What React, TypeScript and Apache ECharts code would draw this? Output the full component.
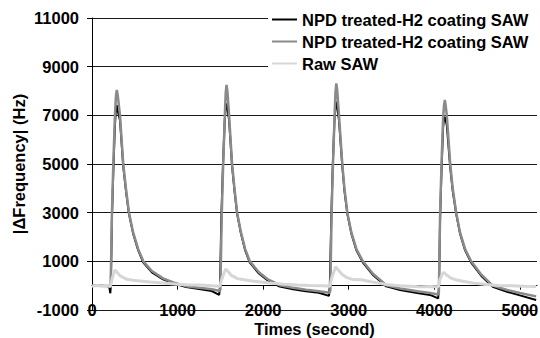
import React, { useEffect, useRef } from "react";
import * as echarts from "echarts";

const seriesNames = ["NPD treated-H2 coating SAW", "NPD treated-H2 coating SAW", "Raw SAW"];
const xTicks = [0, 1000, 2000, 3000, 4000, 5000];

const blackT = [
  0, 100, 200, 214, 220, 234, 250, 268, 280, 290, 300, 327, 365, 400, 432, 480, 540, 600, 700, 830, 950, 1100, 1250, 1400, 1486,
  1496, 1512, 1530, 1550, 1562, 1572, 1582, 1602, 1637, 1665, 1696, 1740, 1790, 1844, 1950, 2050, 2194, 2350, 2500, 2650, 2769,
  2779, 2797, 2813, 2832, 2845, 2855, 2865, 2886, 2925, 2950, 2984, 3030, 3090, 3166, 3280, 3439, 3600, 3800, 3950, 4045,
  4055, 4068, 4084, 4103, 4113, 4123, 4133, 4146, 4186, 4215, 4256, 4300, 4360, 4431, 4550, 4683, 4850, 5000, 5190,
];
const blackV = [
  0, 0, -20, -310, 0, 2900, 4800, 6600, 7250, 7420, 7200, 6800, 4900, 3800, 2950, 2150, 1450, 950, 550, 260, 100, -60, -140, -220, -380,
  0, 2900, 4900, 6700, 7300, 7490, 7300, 6800, 4900, 3900, 2950, 2150, 1450, 950, 500, 220, -40, -150, -230, -290, -420,
  0, 2900, 4900, 6700, 7350, 7560, 7350, 6800, 4900, 3900, 2950, 2150, 1450, 950, 450, -30, -180, -300, -380, -520,
  0, 2800, 4700, 6500, 6850, 6940, 6800, 6600, 4850, 3900, 2950, 2150, 1450, 950, 400, -50, -250, -400, -590,
];

const grayT = [
  0, 100, 200, 218, 233, 249, 268, 280, 290, 300, 327, 365, 400, 432, 480, 540, 600, 700, 830, 950, 1100, 1250, 1400, 1495,
  1500, 1517, 1533, 1552, 1562, 1572, 1582, 1602, 1637, 1665, 1696, 1740, 1790, 1844, 1950, 2050, 2194, 2350, 2500, 2650, 2775,
  2785, 2800, 2816, 2835, 2845, 2855, 2865, 2886, 2925, 2950, 2984, 3030, 3090, 3166, 3280, 3439, 3600, 3800, 3950, 4048,
  4053, 4068, 4084, 4103, 4113, 4123, 4133, 4146, 4186, 4215, 4256, 4300, 4360, 4431, 4550, 4683, 4850, 5000, 5190,
];
const grayV = [
  0, 0, -10, -40, 3000, 5000, 7000, 7800, 8040, 7850, 7000, 5000, 3900, 3000, 2200, 1500, 1000, 600, 300, 130, -20, -90, -150, -220,
  -150, 3000, 5000, 7000, 7900, 8250, 8000, 7000, 5000, 4000, 3000, 2200, 1500, 1000, 550, 270, 20, -90, -170, -230, -290,
  -200, 3000, 5000, 7000, 7950, 8310, 8050, 7000, 5000, 4000, 3000, 2200, 1500, 1000, 500, 20, -120, -230, -300, -360,
  -300, 3000, 5000, 6900, 7400, 7630, 7400, 7000, 5000, 4000, 3000, 2200, 1500, 1000, 450, 0, -180, -300, -440,
];

const rawT = [
  0, 60, 120, 180, 215, 240, 268, 290, 330, 405, 480, 560, 680, 793, 988, 1100, 1264, 1400, 1495,
  1510, 1535, 1563, 1590, 1630, 1700, 1780, 1850, 1950, 2100, 2250, 2400, 2550, 2700, 2780,
  2800, 2825, 2847, 2875, 2920, 2980, 3049, 3150, 3244, 3340, 3439, 3600, 3827, 3950, 4048,
  4065, 4090, 4110, 4140, 4190, 4260, 4350, 4450, 4600, 4750, 4900, 5050, 5190,
];
const rawV = [
  -20, 10, -20, 0, -40, 350, 640, 560, 400, 262, 220, 193, 150, 123, 60, 40, 30, 0, -20,
  200, 450, 686, 580, 420, 290, 240, 200, 160, 100, 60, 30, 10, 0, -20,
  300, 550, 780, 650, 470, 330, 250, 240, 170, 110, 50, 0, -40, -30, -40,
  250, 450, 550, 450, 320, 230, 170, 110, 50, 10, 0, -20, -30,
];

const Y_MIN = -1000;
const Y_MAX = 11000;

const zip = (t: number[], v: number[]) => t.map((x, i) => [x, v[i]]);

const FONT = "'Liberation Sans', Arial, sans-serif";
const FS = 16.5;
const GRID_TOP = 18;
const GRID_BOTTOM = 28;
const CHART_H = 338;

export default function App() {
  const ref = useRef<HTMLDivElement>(null);
  useEffect(() => {
    if (!ref.current) return;
    const chart = echarts.init(ref.current, undefined, { renderer: "svg" });
    const textBase = { fontFamily: FONT, fontWeight: "bold" as const, fontSize: FS, color: "#000" };
    const plotH = CHART_H - GRID_TOP - GRID_BOTTOM;
    const zeroOffset = -((0 - Y_MIN) / (Y_MAX - Y_MIN)) * plotH;
    chart.setOption({
      animation: false,
      backgroundColor: "#fff",
      grid: { left: 92, right: 3, top: GRID_TOP, bottom: GRID_BOTTOM, containLabel: false, outerBoundsMode: "none" },
      legend: {
        orient: "vertical",
        left: 268,
        top: 6,
        itemWidth: 25,
        itemHeight: 10,
        itemGap: 5,
        padding: [5, 10, 6, 4],
        backgroundColor: "#fff",
        textStyle: { ...textBase },
        data: [
          { name: "a", icon: "path://M0,0L25,0L25,2L0,2Z" },
          { name: "b", icon: "path://M0,0L25,0L25,2L0,2Z" },
          { name: "c", icon: "path://M0,0L25,0L25,2L0,2Z" },
        ],
        formatter: (n: string) => (n === "a" ? seriesNames[0] : n === "b" ? seriesNames[1] : seriesNames[2]),
      },
      xAxis: {
        type: "value",
        min: 0,
        max: 5200,
        interval: 1000,
        position: "bottom",
        offset: zeroOffset,
        name: "Times (second)",
        nameLocation: "middle",
        nameGap: 35,
        nameMoveOverlap: false,
        nameTextStyle: { ...textBase, lineHeight: 17 },
        axisLine: { show: true, onZero: false, lineStyle: { color: "#000", width: 1 } },
        axisTick: { show: true, length: 4, lineStyle: { color: "#000" } },
        axisLabel: {
          ...textBase,
          margin: 16,
          showMaxLabel: false,
          formatter: (v: number) => (xTicks.includes(v) ? String(v) : ""),
        },
        splitLine: { show: false },
      },
      yAxis: {
        type: "value",
        min: Y_MIN,
        max: Y_MAX,
        interval: 2000,
        name: "|ΔFrequency| (Hz)",
        nameLocation: "middle",
        nameGap: 65,
        nameMoveOverlap: false,
        nameTextStyle: { ...textBase },
        axisLine: { show: true, lineStyle: { color: "#000", width: 1 } },
        axisTick: { show: true, length: 5, lineStyle: { color: "#000" } },
        axisLabel: { ...textBase, margin: 13, formatter: (v: number) => String(v) },
        splitLine: { show: true, lineStyle: { color: "#1a1a1a", width: 1 } },
      },
      series: [
        {
          name: "a",
          type: "line",
          data: zip(blackT, blackV),
          symbol: "none",
          lineStyle: { color: "#000", width: 2 },
          itemStyle: { color: "#000" },
        },
        {
          name: "b",
          type: "line",
          data: zip(grayT, grayV),
          symbol: "none",
          lineStyle: { color: "#8a8a8a", width: 2.5 },
          itemStyle: { color: "#8a8a8a" },
        },
        {
          name: "c",
          type: "line",
          data: zip(rawT, rawV),
          symbol: "none",
          lineStyle: { color: "#d6d6d6", width: 3 },
          itemStyle: { color: "#d6d6d6" },
        },
      ],
    });
    return () => chart.dispose();
  }, []);
  return (
    <div
      ref={ref}
      style={{ position: "absolute", left: 0, top: 0, width: 540, height: 338 }}
    />
  );
}
